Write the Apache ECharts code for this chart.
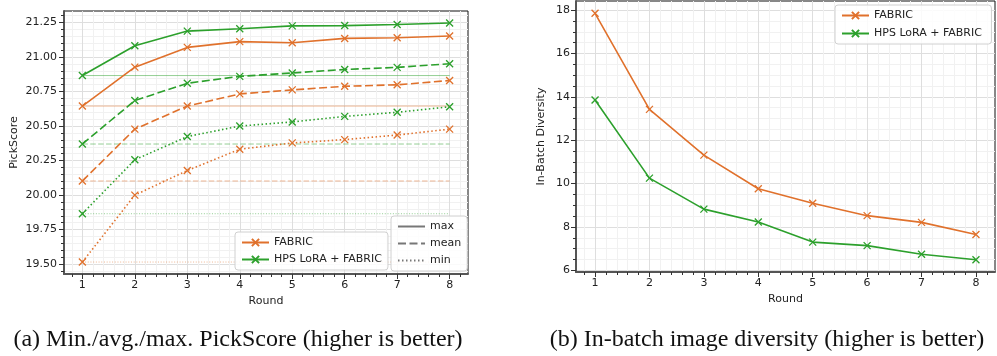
<!DOCTYPE html>
<html>
<head>
<meta charset="utf-8">
<script src="https://cdn.jsdelivr.net/npm/echarts@6/dist/echarts.min.js"></script>
<style>
  html, body { margin: 0; padding: 0; background: #fff; }
  #chart { width: 997px; height: 356px; }
</style>
</head>
<body>
<div id="chart"></div>
<script>
const rounds = [1, 2, 3, 4, 5, 6, 7, 8];

// (a) PickScore per round
const fabricMax = [20.645, 20.927, 21.07, 21.112, 21.104, 21.135, 21.14, 21.153];
const fabricMean = [20.102, 20.478, 20.645, 20.733, 20.762, 20.788, 20.799, 20.83];
const fabricMin = [19.515, 20.0, 20.178, 20.332, 20.378, 20.402, 20.435, 20.478];
const hpsMax = [20.866, 21.082, 21.188, 21.205, 21.226, 21.228, 21.236, 21.247];
const hpsMean = [20.37, 20.685, 20.81, 20.86, 20.885, 20.91, 20.925, 20.952];
const hpsMin = [19.865, 20.256, 20.424, 20.5, 20.53, 20.57, 20.6, 20.64];

// (b) in-batch diversity per round
const fabricDiv = [17.85, 13.42, 11.31, 9.76, 9.09, 8.52, 8.21, 7.65];
const hpsDiv = [13.85, 10.25, 8.82, 8.23, 7.3, 7.14, 6.74, 6.49];

const scoreTicks = [19.5, 19.75, 20.0, 20.25, 20.5, 20.75, 21.0, 21.25];
const divTicks = [6, 8, 10, 12, 14, 16, 18];

const ORANGE = '#e0712c';
const GREEN = '#2ca02c';
const FONT = 'DejaVu Sans';
const X_MARK = 'path://M0,0L10,10M10,0L0,10';

// minor tick positions between major ticks (excluding the majors)
function minors(major, parts, lo, hi) {
  const step = (major[1] - major[0]) / parts;
  const out = [];
  const start = major[0] - Math.ceil((major[0] - lo) / step) * step;
  for (let v = start; v <= hi + 1e-9; v += step) {
    const r = Math.round(v * 1000) / 1000;
    if (!major.some(m => Math.abs(m - r) < 1e-6)) out.push(r);
  }
  return out;
}

function pad(arrs) {
  const all = [].concat(...arrs);
  const lo = Math.min(...all), hi = Math.max(...all);
  const m = (hi - lo) * 0.05;
  return [lo - m, hi + m];
}

const xRange = [rounds[0] - 0.35, rounds[rounds.length - 1] + 0.35];
const scoreRange = pad([fabricMax, fabricMean, fabricMin, hpsMax, hpsMean, hpsMin]);
const divRange = pad([fabricDiv, hpsDiv]);

const xMinor = minors(rounds, 5, xRange[0], xRange[1]);
const scoreMinor = minors(scoreTicks, 5, scoreRange[0], scoreRange[1]);
const divMinor = minors(divTicks, 4, divRange[0], divRange[1]);

function majorAxis(gridIndex, range, ticks, position, extra) {
  return Object.assign({
    type: 'value', gridIndex, position, min: range[0], max: range[1],
    axisLine: { show: true, onZero: false, lineStyle: { color: '#555', width: 2 } },
    axisTick: { show: true, length: 5, customValues: ticks, lineStyle: { color: '#333', width: 1 } },
    axisLabel: { customValues: ticks, color: '#222', fontFamily: FONT, fontSize: 11, margin: 6 },
    splitLine: { show: true, lineStyle: { color: '#dedede', width: 1 } }
  }, extra || {});
}

function minorAxis(gridIndex, range, ticks, position) {
  return {
    type: 'value', gridIndex, position, min: range[0], max: range[1],
    axisLine: { show: false, onZero: false },
    axisTick: { show: true, length: 3, customValues: ticks, lineStyle: { color: '#333', width: 1 } },
    axisLabel: { show: false },
    splitLine: { show: true, lineStyle: { color: '#f1f1f1', width: 1 } }
  };
}

function xy(vals) {
  return rounds.map((r, i) => [r, vals[i]]);
}

function scoreLine(name, color, vals, dash) {
  return {
    name, type: 'line', xAxisIndex: 0, yAxisIndex: 0, data: xy(vals),
    symbol: X_MARK, symbolSize: 7, z: 5,
    itemStyle: { color, borderColor: color, borderWidth: 1.3 },
    lineStyle: { color, width: 1.6, type: dash },
    emphasis: { disabled: true }
  };
}

// faint horizontal line at the round-1 value
function baseLine(color, vals, dash) {
  return {
    name: 'round1', type: 'line', xAxisIndex: 0, yAxisIndex: 0,
    data: rounds.map(r => [r, vals[0]]),
    symbol: 'none', z: 3, silent: true,
    lineStyle: { color, width: 1, opacity: 0.5, type: dash }
  };
}

function styleKey(name, dash) {
  return {
    name, type: 'line', xAxisIndex: 0, yAxisIndex: 0, data: [],
    symbol: 'none', itemStyle: { color: '#777' },
    lineStyle: { color: '#777', width: 1.6, type: dash }
  };
}

const DASH = [8, 3.5];
const DOT = [1.5, 2.5];
const DASH_T = [5.5, 2.4];
const DOT_T = [1, 1.7];

const chart = echarts.init(document.getElementById('chart'));

const legendBase = {
  orient: 'vertical', itemWidth: 27, itemHeight: 9, itemGap: 6,
  backgroundColor: 'rgba(255,255,255,0.85)', borderColor: '#d0d0d0', borderWidth: 1,
  borderRadius: 3, padding: [5, 6, 5, 6],
  textStyle: { fontFamily: FONT, fontSize: 11, color: '#222' },
  selectedMode: false
};

const nameStyle = { fontFamily: FONT, fontSize: 11, color: '#222' };

chart.setOption({
  animation: false,
  backgroundColor: '#fff',
  grid: [
    { left: 64, top: 11, width: 404, height: 263, show: true, borderColor: '#111', borderWidth: 1 },
    { left: 576, top: 1, width: 419, height: 271, show: true, borderColor: '#111', borderWidth: 1 }
  ],
  xAxis: [
    majorAxis(0, xRange, rounds, 'bottom', { name: 'Round', nameLocation: 'middle', nameGap: 20,
      nameTextStyle: nameStyle }),
    minorAxis(0, xRange, xMinor, 'bottom'),
    majorAxis(1, xRange, rounds, 'bottom', { name: 'Round', nameLocation: 'middle', nameGap: 20,
      nameTextStyle: nameStyle }),
    minorAxis(1, xRange, xMinor, 'bottom')
  ],
  yAxis: [
    majorAxis(0, scoreRange, scoreTicks, 'left', {
      axisLabel: { customValues: scoreTicks, color: '#222', fontFamily: FONT, fontSize: 11, margin: 7,
        formatter: v => v.toFixed(2) },
      name: 'PickScore', nameLocation: 'middle', nameGap: 44, nameTextStyle: nameStyle }),
    minorAxis(0, scoreRange, scoreMinor, 'left'),
    majorAxis(1, divRange, divTicks, 'left', {
      name: 'In-Batch Diversity', nameLocation: 'middle', nameGap: 29, nameTextStyle: nameStyle }),
    minorAxis(1, divRange, divMinor, 'left')
  ],
  legend: [
    Object.assign({}, legendBase, { left: 235, top: 232, data: ['FABRIC', 'HPS LoRA + FABRIC'] }),
    Object.assign({}, legendBase, { left: 391, top: 216, itemStyle: { opacity: 0 },
      data: ['max', 'mean', 'min'] }),
    Object.assign({}, legendBase, { left: 835, top: 5, itemGap: 7,
      data: ['FABRIC ', 'HPS LoRA + FABRIC '] })
  ],
  series: [
    baseLine(ORANGE, fabricMax, 'solid'),
    baseLine(GREEN, hpsMax, 'solid'),
    baseLine(ORANGE, fabricMean, DASH_T),
    baseLine(GREEN, hpsMean, DASH_T),
    baseLine(ORANGE, fabricMin, DOT_T),
    baseLine(GREEN, hpsMin, DOT_T),
    scoreLine('FABRIC', ORANGE, fabricMax, 'solid'),
    scoreLine('HPS LoRA + FABRIC', GREEN, hpsMax, 'solid'),
    scoreLine('FABRIC', ORANGE, fabricMean, DASH),
    scoreLine('HPS LoRA + FABRIC', GREEN, hpsMean, DASH),
    scoreLine('FABRIC', ORANGE, fabricMin, DOT),
    scoreLine('HPS LoRA + FABRIC', GREEN, hpsMin, DOT),
    styleKey('max', 'solid'),
    styleKey('mean', DASH),
    styleKey('min', DOT),
    Object.assign(scoreLine('FABRIC ', ORANGE, fabricDiv, 'solid'), { xAxisIndex: 2, yAxisIndex: 2 }),
    Object.assign(scoreLine('HPS LoRA + FABRIC ', GREEN, hpsDiv, 'solid'), { xAxisIndex: 2, yAxisIndex: 2 })
  ],
  graphic: [
    { type: 'text', x: 238, y: 340, style: { text: '(a) Min./avg./max. PickScore (higher is better)',
      font: '24px "Liberation Serif"', fill: '#111', align: 'center', verticalAlign: 'middle' } },
    { type: 'text', x: 767, y: 340, style: { text: '(b) In-batch image diversity (higher is better)',
      font: '24px "Liberation Serif"', fill: '#111', align: 'center', verticalAlign: 'middle' } }
  ]
});
</script>
</body>
</html>
